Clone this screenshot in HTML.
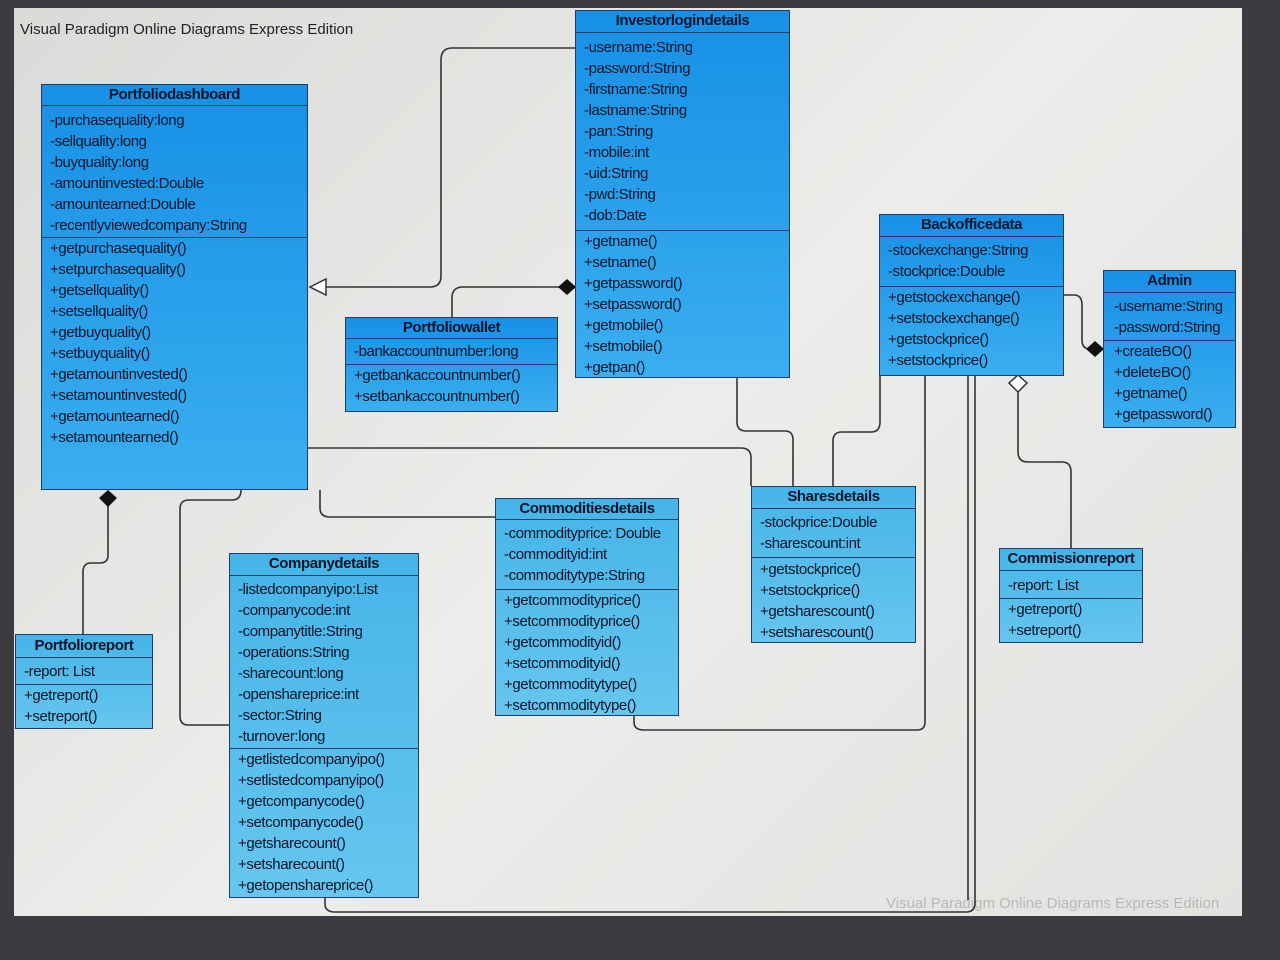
<!DOCTYPE html>
<html><head><meta charset="utf-8">
<style>
body{margin:0;width:1280px;height:960px;overflow:hidden;background:#3c3c40;font-family:"Liberation Sans",sans-serif;}
#screen{position:absolute;left:14px;top:8px;width:1228px;height:908px;background:linear-gradient(135deg,#dadbd8,#ecedea 50%,#e2e3e0);}
.c{position:absolute;border:1.5px solid #1d3d6a;box-sizing:border-box;background:linear-gradient(180deg,#1790e6,#3aaeef);color:#061428;font-size:15px;letter-spacing:-0.4px;}
.c.l{background:linear-gradient(180deg,#46b4e8,#66c6ef);}
.h{font-weight:bold;text-align:center;border-bottom:1.5px solid #1d3d6a;box-sizing:border-box;}
.s{border-bottom:1.5px solid #1d3d6a;box-sizing:border-box;padding-left:8px;line-height:21px;padding-top:4px;}
.s:last-child{border-bottom:none;}
.t{position:absolute;font-size:15px;color:#222;}
svg{position:absolute;left:0;top:0;}
</style></head><body>
<div id="screen"></div>
<div class="t" style="left:20px;top:21px;">Visual Paradigm Online Diagrams Express Edition</div>
<div class="t" style="left:886px;top:895px;color:#b8b8b8;">Visual Paradigm Online Diagrams Express Edition</div>
<svg width="1280" height="960">
<g fill="none" stroke="#333" stroke-width="1.6">
<path d="M575 48 H452 Q441 48 441 60 V276 Q441 287 430 287 H325"/>
<path d="M452 317 V298 Q452 287 463 287 H560"/>
<path d="M1064 295 H1074 Q1082 295 1082 305 V340 Q1082 349 1090 349 H1088"/>
<path d="M108 505 V555 Q108 563 100 563 H91 Q83 563 83 572 V634"/>
<path d="M737 378 V422 Q737 431 746 431 H785 Q793 431 793 440 V486"/>
<path d="M880 376 V422 Q880 432 871 432 H842 Q833 432 833 441 V486"/>
<path d="M1018 391 V452 Q1018 462 1028 462 H1062 Q1071 462 1071 472 V548"/>
<path d="M308 448 H741 Q751 448 751 458 V486"/>
<path d="M320 490 V508 Q320 517 330 517 H495"/>
<path d="M229 725 H188 Q180 725 180 716 V509 Q180 500 189 500 H232 Q241 500 241 490"/>
<path d="M634 716 V722 Q634 730 644 730 H917 Q925 730 925 722 V376"/>
<path d="M325 898 V904 Q325 912 335 912 H966 Q975 912 975 903 V376"/>
<path d="M968 376 V900"/>
</g>
<polygon points="310,287 326,279 326,295" fill="#fff" stroke="#333" stroke-width="1.5"/>
<polygon points="558,287 567,279 576,287 567,295" fill="#111"/>
<polygon points="1086,349 1095,341 1104,349 1095,357" fill="#111"/>
<polygon points="108,490 117,498 108,507 99,498" fill="#111"/>
<polygon points="1018,375 1027,383 1018,392 1009,383" fill="#fff" stroke="#333" stroke-width="1.5"/>
</svg>

<div class="c" style="left:575px;top:10px;width:215px;height:368px;">
<div class="h" style="height:22px;line-height:20px;">Investorlogindetails</div>
<div class="s" style="height:198px;">-username:String<br>-password:String<br>-firstname:String<br>-lastname:String<br>-pan:String<br>-mobile:int<br>-uid:String<br>-pwd:String<br>-dob:Date</div>
<div class="s" style="padding-top:0;">+getname()<br>+setname()<br>+getpassword()<br>+setpassword()<br>+getmobile()<br>+setmobile()<br>+getpan()</div>
</div>

<div class="c" style="left:41px;top:84px;width:267px;height:406px;">
<div class="h" style="height:21px;line-height:19px;">Portfoliodashboard</div>
<div class="s" style="height:132px;">-purchasequality:long<br>-sellquality:long<br>-buyquality:long<br>-amountinvested:Double<br>-amountearned:Double<br>-recentlyviewedcompany:String</div>
<div class="s" style="padding-top:0;">+getpurchasequality()<br>+setpurchasequality()<br>+getsellquality()<br>+setsellquality()<br>+getbuyquality()<br>+setbuyquality()<br>+getamountinvested()<br>+setamountinvested()<br>+getamountearned()<br>+setamountearned()</div>
</div>

<div class="c" style="left:345px;top:317px;width:213px;height:95px;">
<div class="h" style="height:21px;line-height:19px;">Portfoliowallet</div>
<div class="s" style="height:26px;padding-top:2px;">-bankaccountnumber:long</div>
<div class="s" style="padding-top:0;">+getbankaccountnumber()<br>+setbankaccountnumber()</div>
</div>

<div class="c" style="left:879px;top:214px;width:185px;height:162px;">
<div class="h" style="height:22px;line-height:20px;">Backofficedata</div>
<div class="s" style="height:50px;padding-top:3px;">-stockexchange:String<br>-stockprice:Double</div>
<div class="s" style="padding-top:0;">+getstockexchange()<br>+setstockexchange()<br>+getstockprice()<br>+setstockprice()</div>
</div>

<div class="c" style="left:1103px;top:270px;width:133px;height:158px;">
<div class="h" style="height:22px;line-height:20px;">Admin</div>
<div class="s" style="height:48px;padding-left:10px;padding-top:3px;">-username:String<br>-password:String</div>
<div class="s" style="padding-left:10px;padding-top:0;">+createBO()<br>+deleteBO()<br>+getname()<br>+getpassword()</div>
</div>

<div class="c l" style="left:495px;top:498px;width:184px;height:218px;">
<div class="h" style="height:21px;line-height:19px;">Commoditiesdetails</div>
<div class="s" style="height:70px;padding-top:3px;">-commodityprice: Double<br>-commodityid:int<br>-commoditytype:String</div>
<div class="s" style="padding-top:0;">+getcommodityprice()<br>+setcommodityprice()<br>+getcommodityid()<br>+setcommodityid()<br>+getcommoditytype()<br>+setcommoditytype()</div>
</div>

<div class="c l" style="left:751px;top:486px;width:165px;height:157px;">
<div class="h" style="height:22px;line-height:20px;">Sharesdetails</div>
<div class="s" style="height:49px;padding-top:3px;">-stockprice:Double<br>-sharescount:int</div>
<div class="s" style="padding-top:1px;">+getstockprice()<br>+setstockprice()<br>+getsharescount()<br>+setsharescount()</div>
</div>

<div class="c l" style="left:229px;top:553px;width:190px;height:345px;">
<div class="h" style="height:22px;line-height:20px;">Companydetails</div>
<div class="s" style="height:173px;padding-top:3px;">-listedcompanyipo:List<br>-companycode:int<br>-companytitle:String<br>-operations:String<br>-sharecount:long<br>-openshareprice:int<br>-sector:String<br>-turnover:long</div>
<div class="s" style="padding-top:0;">+getlistedcompanyipo()<br>+setlistedcompanyipo()<br>+getcompanycode()<br>+setcompanycode()<br>+getsharecount()<br>+setsharecount()<br>+getopenshareprice()</div>
</div>

<div class="c l" style="left:15px;top:634px;width:138px;height:95px;">
<div class="h" style="height:23px;line-height:21px;">Portfolioreport</div>
<div class="s" style="height:27px;padding-top:3px;">-report: List</div>
<div class="s" style="padding-top:0;">+getreport()<br>+setreport()</div>
</div>

<div class="c l" style="left:999px;top:548px;width:144px;height:95px;">
<div class="h" style="height:22px;line-height:20px;">Commissionreport</div>
<div class="s" style="height:28px;padding-top:4px;">-report: List</div>
<div class="s" style="padding-top:0;">+getreport()<br>+setreport()</div>
</div>
</body></html>
